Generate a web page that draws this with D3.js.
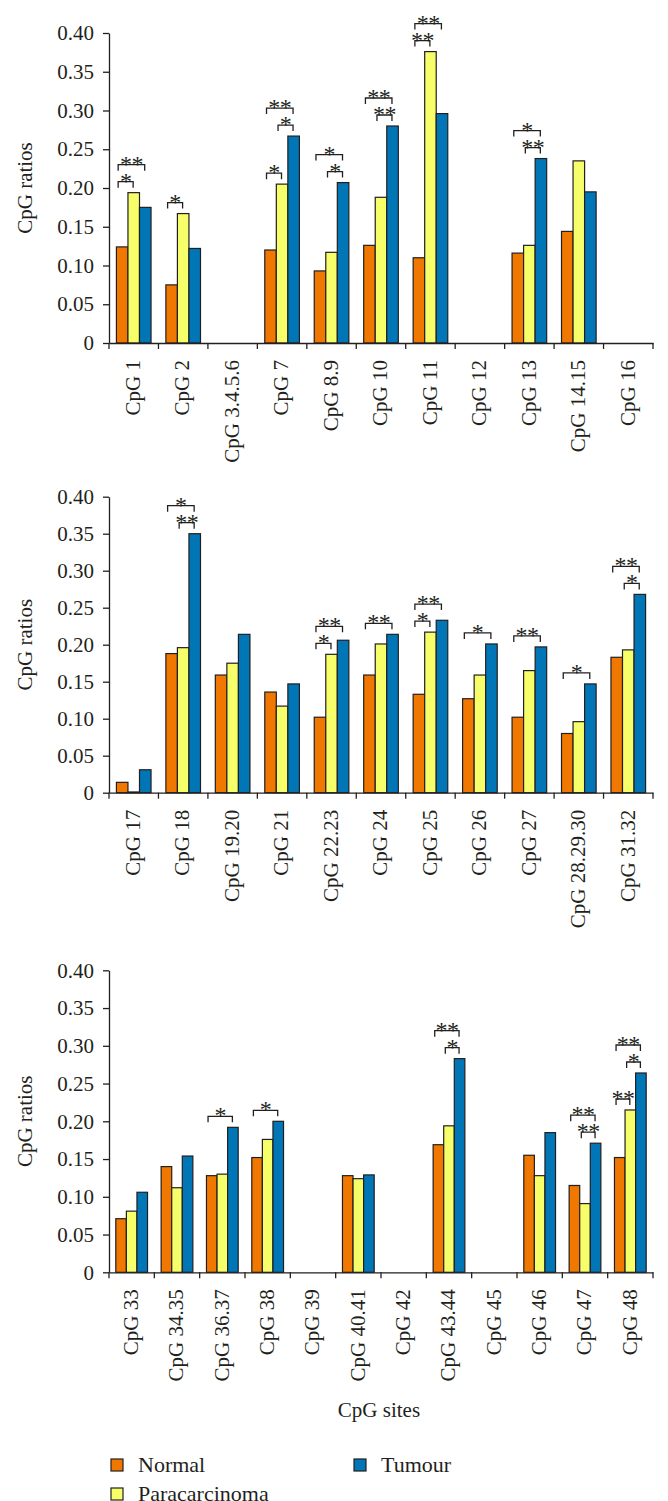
<!DOCTYPE html>
<html>
<head>
<meta charset="utf-8">
<script src="https://cdn.jsdelivr.net/npm/d3@7/dist/d3.min.js"></script>
<style>
  html, body { margin: 0; padding: 0; background: #fff; }
  svg { display: block; }
  text { font-family: "Liberation Serif", "Times New Roman", serif; fill: #231f20; }
</style>
</head>
<body>
<svg id="chart" width="668" height="1501"></svg>
<script>
// ---------- data ----------
const seriesNames = ["Normal", "Paracarcinoma", "Tumour"];
const seriesColors = ["#f07800", "#f6ff6a", "#0076b6"];
const yTicks = [0, 0.05, 0.10, 0.15, 0.20, 0.25, 0.30, 0.35, 0.40];

const cats1 = ["CpG 1", "CpG 2", "CpG 3.4.5.6", "CpG 7", "CpG 8.9", "CpG 10", "CpG 11", "CpG 12", "CpG 13", "CpG 14.15", "CpG 16"];
const normal1 = [0.124, 0.075, 0, 0.120, 0.093, 0.126, 0.110, 0, 0.116, 0.144, 0];
const para1   = [0.194, 0.167, 0, 0.205, 0.117, 0.188, 0.376, 0, 0.126, 0.235, 0];
const tumour1 = [0.175, 0.122, 0, 0.267, 0.207, 0.280, 0.296, 0, 0.238, 0.195, 0];

const cats2 = ["CpG 17", "CpG 18", "CpG 19.20", "CpG 21", "CpG 22.23", "CpG 24", "CpG 25", "CpG 26", "CpG 27", "CpG 28.29.30", "CpG 31.32"];
const normal2 = [0.014, 0.188, 0.159, 0.136, 0.102, 0.159, 0.133, 0.127, 0.102, 0.080, 0.183];
const para2   = [0.001, 0.196, 0.175, 0.117, 0.187, 0.201, 0.217, 0.159, 0.165, 0.096, 0.193];
const tumour2 = [0.031, 0.350, 0.214, 0.147, 0.206, 0.214, 0.233, 0.201, 0.197, 0.147, 0.268];

const cats3 = ["CpG 33", "CpG 34.35", "CpG 36.37", "CpG 38", "CpG 39", "CpG 40.41", "CpG 42", "CpG 43.44", "CpG 45", "CpG 46", "CpG 47", "CpG 48"];
const normal3 = [0.071, 0.140, 0.128, 0.152, 0, 0.128, 0, 0.169, 0, 0.155, 0.115, 0.152];
const para3   = [0.081, 0.112, 0.130, 0.176, 0, 0.124, 0, 0.194, 0, 0.128, 0.091, 0.215];
const tumour3 = [0.106, 0.154, 0.192, 0.200, 0, 0.129, 0, 0.283, 0, 0.185, 0.171, 0.264];

// significance brackets: [category, fromSeries, toSeries, label]
const sig1 = [["CpG 1",0,1,"*"],["CpG 1",0,2,"**"],["CpG 2",0,1,"*"],
  ["CpG 7",0,1,"*"],["CpG 7",1,2,"*"],["CpG 7",0,2,"**"],
  ["CpG 8.9",1,2,"*"],["CpG 8.9",0,2,"*"],["CpG 10",1,2,"**"],["CpG 10",0,2,"**"],
  ["CpG 11",0,1,"**"],["CpG 11",0,2,"**"],["CpG 13",1,2,"**"],["CpG 13",0,2,"*"]];
const sig2 = [["CpG 18",1,2,"**"],["CpG 18",0,2,"*"],["CpG 22.23",0,1,"*"],["CpG 22.23",0,2,"**"],
  ["CpG 24",0,2,"**"],["CpG 25",0,1,"*"],["CpG 25",0,2,"**"],["CpG 26",0,2,"*"],
  ["CpG 27",0,2,"**"],["CpG 28.29.30",0,2,"*"],["CpG 31.32",1,2,"*"],["CpG 31.32",0,2,"**"]];
const sig3 = [["CpG 36.37",0,2,"*"],["CpG 38",0,2,"*"],["CpG 43.44",1,2,"*"],["CpG 43.44",0,2,"**"],
  ["CpG 47",1,2,"**"],["CpG 47",0,2,"**"],["CpG 48",0,1,"**"],["CpG 48",1,2,"*"],["CpG 48",0,2,"**"]];

const xTitle = "CpG sites";
const yTitle = "CpG ratios";

// ---------- layout ----------
const svg = d3.select("#chart");
const FS = 21;
const left = 109, right = 653;
const panels = [
  {cats: cats1, vals: [normal1, para1, tumour1], sig: sig1, top: 33, bottom: 343},
  {cats: cats2, vals: [normal2, para2, tumour2], sig: sig2, top: 496.7, bottom: 792.7},
  {cats: cats3, vals: [normal3, para3, tumour3], sig: sig3, top: 970.3, bottom: 1272.3}
];
const ink = "#231f20";

panels.forEach(p => {
  const g = svg.append("g");
  const x = d3.scaleBand().domain(p.cats).range([left, right]).paddingInner(0).paddingOuter(0);
  const xs = d3.scaleBand().domain([0, 1, 2]).range([0, x.bandwidth()]).paddingInner(0).paddingOuter(0.643);
  const y = d3.scaleLinear().domain([0, 0.4]).range([p.bottom, p.top]);

  // bars
  p.cats.forEach((c, i) => {
    p.vals.forEach((arr, s) => {
      const v = arr[i];
      if (!v) return;
      g.append("rect")
        .attr("x", x(c) + xs(s))
        .attr("y", y(v))
        .attr("width", xs.bandwidth())
        .attr("height", y(0) - y(v))
        .attr("fill", seriesColors[s])
        .attr("stroke", ink)
        .attr("stroke-width", 1.2);
    });
  });

  // y axis
  const yAxis = d3.axisLeft(y).tickValues(yTicks)
    .tickFormat(d => d === 0 ? "0" : d3.format(".2f")(d))
    .tickSize(6).tickSizeOuter(0).tickPadding(9);
  const ya = g.append("g").attr("transform", `translate(${left},0)`).call(yAxis);
  ya.select(".domain").attr("stroke", ink).attr("stroke-width", 1.3);
  ya.selectAll(".tick line").attr("stroke", ink).attr("stroke-width", 1.3);
  ya.selectAll(".tick text").attr("font-size", FS).attr("font-family", "Liberation Serif").attr("fill", ink);

  // x axis (labels at band centres, ticks at band boundaries)
  const xAxis = d3.axisBottom(x).tickSize(0).tickSizeOuter(0);
  const xa = g.append("g").attr("transform", `translate(0,${p.bottom})`).call(xAxis);
  xa.select(".domain").attr("stroke", ink).attr("stroke-width", 1.3);
  xa.selectAll(".tick text")
    .attr("font-size", FS).attr("font-family", "Liberation Serif").attr("fill", ink)
    .attr("transform", "rotate(-90)")
    .attr("text-anchor", "end")
    .attr("x", -17).attr("y", 0).attr("dy", "0.3em");
  const bounds = p.cats.map(c => x(c)).concat([x.range()[1]]);
  g.selectAll(".bt").data(bounds).join("line")
    .attr("x1", d => d).attr("x2", d => d)
    .attr("y1", p.bottom).attr("y2", p.bottom + 6)
    .attr("stroke", ink).attr("stroke-width", 1.3);

  // y title
  g.append("text")
    .attr("transform", `translate(32,${(p.top + p.bottom) / 2}) rotate(-90)`)
    .attr("text-anchor", "middle")
    .attr("font-size", FS)
    .text(yTitle);

  // significance brackets
  const byCat = d3.group(p.sig, d => d[0]);
  byCat.forEach((list, c) => {
    const i = p.cats.indexOf(c);
    const sorted = list.slice().sort((a, b) => (a[2] - a[1]) - (b[2] - b[1]));
    const placed = [];
    sorted.forEach(s => {
      const [cat, a, b, lab] = s;
      let maxV = 0;
      for (let k = a; k <= b; k++) maxV = Math.max(maxV, p.vals[k][i]);
      let ly = y(maxV) - 11;
      if (b - a === 2) placed.forEach(py => { ly = Math.min(ly, py - 17); });
      placed.push(ly);
      const x1 = x(c) + xs(a) + xs.bandwidth() * 0.15;
      const x2 = x(c) + xs(b) + xs.bandwidth() * 0.45;
      g.append("path")
        .attr("d", `M${x1},${ly + 6}V${ly}H${x2}V${ly + 6}`)
        .attr("fill", "none").attr("stroke", ink).attr("stroke-width", 1.3);
      g.append("text")
        .attr("x", (x1 + x2) / 2).attr("y", ly + 7)
        .attr("text-anchor", "middle")
        .attr("font-size", 24)
        .attr("letter-spacing", -0.5)
        .text(lab);
    });
  });
});

// x title
svg.append("text")
  .attr("x", 379).attr("y", 1417)
  .attr("text-anchor", "middle")
  .attr("font-size", FS)
  .text(xTitle);

// legend
const legendPos = [[111, 1472], [111, 1501], [354, 1472]];
seriesNames.forEach((n, s) => {
  const [lx, ly] = legendPos[s];
  svg.append("rect")
    .attr("x", lx).attr("y", ly - 13).attr("width", 12).attr("height", 12)
    .attr("fill", seriesColors[s]).attr("stroke", ink).attr("stroke-width", 1.2);
  svg.append("text")
    .attr("x", lx + 27).attr("y", ly)
    .attr("font-size", 22)
    .text(n);
});
</script>
</body>
</html>
